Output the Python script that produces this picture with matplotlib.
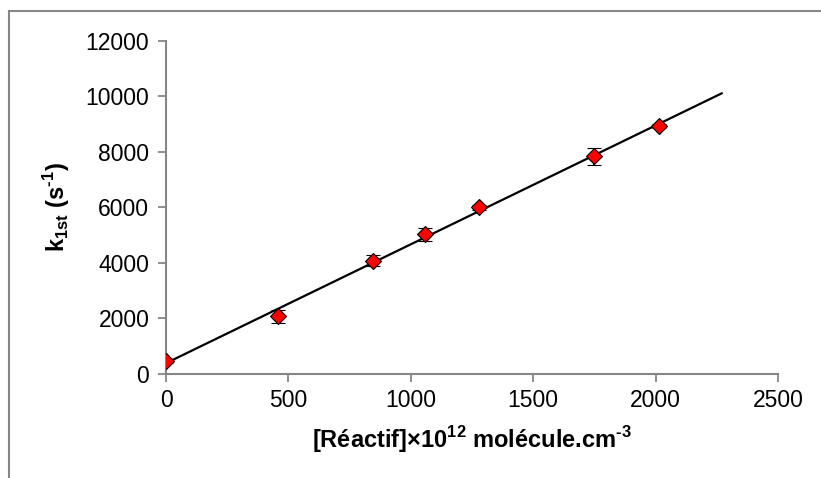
import numpy as np
import matplotlib
matplotlib.use("Agg")
import matplotlib.pyplot as plt
from matplotlib.lines import Line2D

plt.rcParams['font.family'] = ['Liberation Sans', 'DejaVu Sans']
plt.rcParams['mathtext.fontset'] = 'custom'
plt.rcParams['mathtext.rm'] = 'Liberation Sans:bold'
plt.rcParams['mathtext.bf'] = 'Liberation Sans:bold'

# data
conc = [0, 456, 845, 1060, 1278, 1750, 2015]
k1st = [450, 2080, 4080, 5030, 6000, 7830, 8930]
k_err = [50, 230, 210, 240, 100, 310, 80]
fit_xmax = 2270

xticks = [0, 500, 1000, 1500, 2000, 2500]
yticks = [0, 2000, 4000, 6000, 8000, 10000, 12000]

grey = '#868686'

fig = plt.figure(figsize=(8.21, 4.78), dpi=100)
ax = fig.add_axes([0.2022, 0.2176, 0.7454, 0.6975])

# linear fit
slope, icpt = np.polyfit(conc, k1st, 1)
xf = np.array([0, fit_xmax])
ax.plot(xf, slope * xf + icpt, color='black', lw=1.6, zorder=2)

ax.errorbar(conc, k1st, yerr=k_err, fmt='D', ms=8.5, mfc='red', mec='black',
            mew=0.8, ecolor='black', elinewidth=1.2, capsize=5, capthick=1.4,
            zorder=3)

ax.set_xlim(0, 2500)
ax.set_ylim(0, 12000)
ax.set_xticks(xticks)
ax.set_yticks(yticks)
ax.tick_params(labelsize=16.5, direction='out', length=6, width=1.3,
               color=grey, pad=6)
ax.tick_params(axis='x', pad=5)
for s in ['top', 'right']:
    ax.spines[s].set_visible(False)
for s in ['left', 'bottom']:
    ax.spines[s].set_color(grey)
    ax.spines[s].set_linewidth(1.5)

fig.text(472 / 821, 1 - 440 / 478,
         r'[Réactif]×10$^{\text{12}}$ molécule.cm$^{\text{-3}}$',
         fontsize=17, fontweight='bold', ha='center', va='center')
fig.text(57 / 821, 1 - 207 / 478, r'k$_{\text{1st}}$ (s$^{\text{-1}}$)',
         fontsize=17, fontweight='bold', ha='center', va='center',
         rotation=90)

# outer chart frame (only top and left visible)
fig.add_artist(Line2D([9 / 821, 9 / 821], [0, 1 - 11 / 478],
                      transform=fig.transFigure, color=grey, lw=1.5))
fig.add_artist(Line2D([9 / 821, 1], [1 - 11 / 478, 1 - 11 / 478],
                      transform=fig.transFigure, color=grey, lw=1.5))

fig.savefig('out.png', dpi=100)
